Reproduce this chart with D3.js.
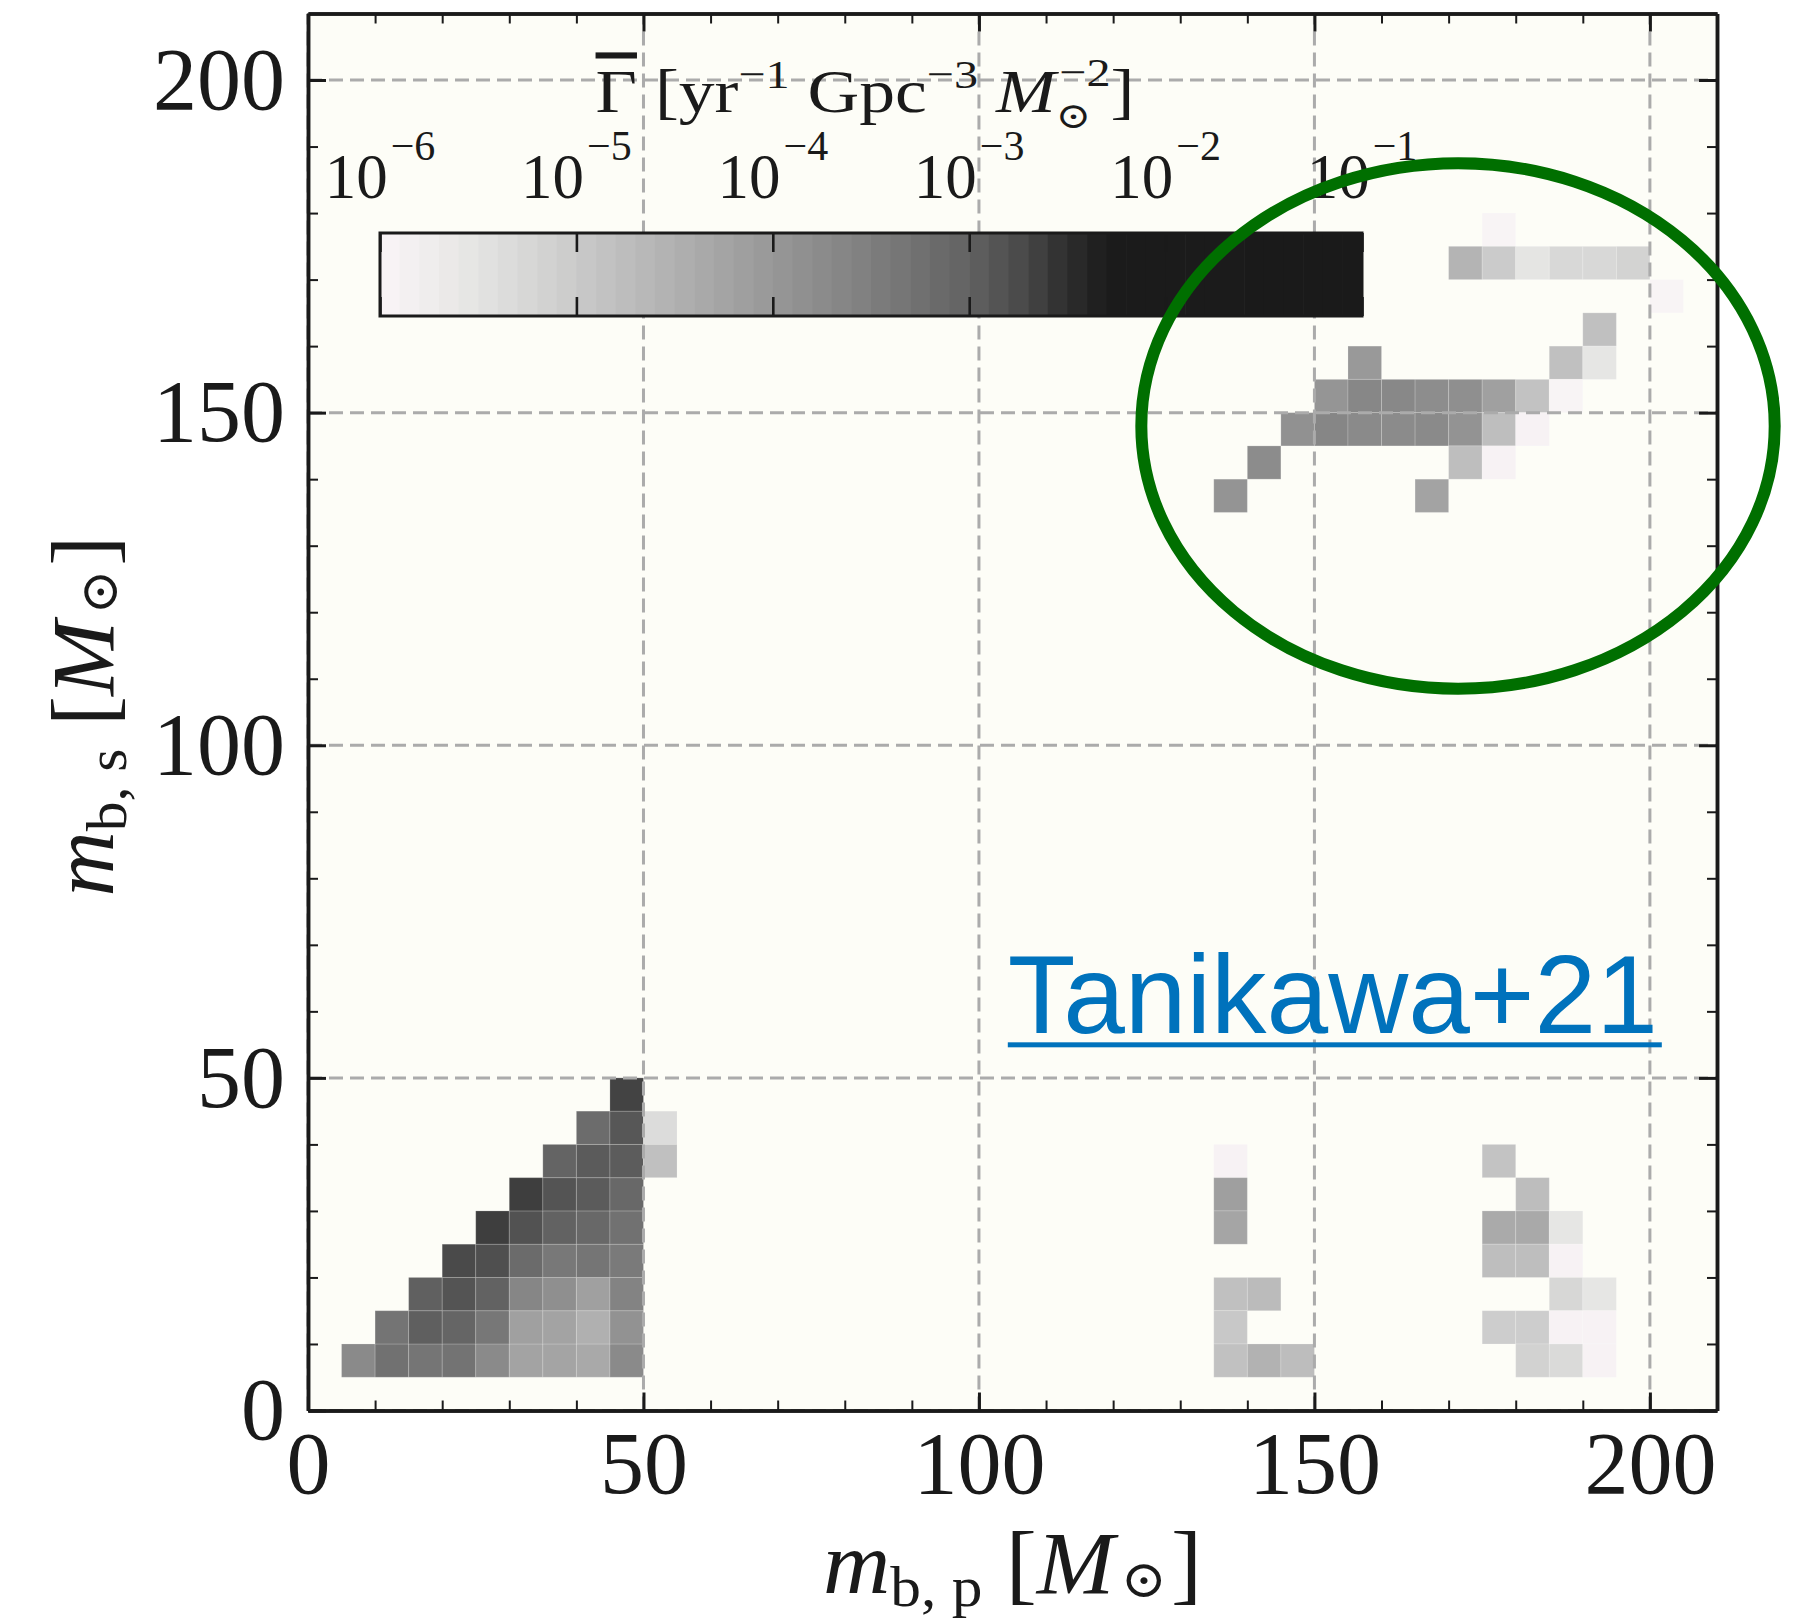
<!DOCTYPE html>
<html>
<head>
<meta charset="utf-8">
<script src="https://cdn.jsdelivr.net/npm/d3@7"></script>
<style>
  html, body { margin: 0; background: #ffffff; }
  svg { display: block; }
</style>
</head>
<body>
<svg id="chart" width="1803" height="1619"></svg>
<script>
// Merger rate density per (m_b,p, m_b,s) bin of width 5 Msun.
// Each entry: [m_b,p bin start, m_b,s bin start, rate in yr^-1 Gpc^-3 Msun^-2]
const BIN = 5;

const lowMassCells = [
  [5, 5, 1.9e-4], [10, 5, 5.5e-4], [15, 5, 4.5e-4], [20, 5, 5.0e-4], [25, 5, 1.9e-4],
  [30, 5, 5.9e-5], [35, 5, 5.6e-5], [40, 5, 4.5e-5], [45, 5, 1.9e-4],
  [10, 10, 4.8e-4], [15, 10, 1.07e-3], [20, 10, 8.9e-4], [25, 10, 4.3e-4],
  [30, 10, 6.8e-5], [35, 10, 5.9e-5], [40, 10, 3.2e-5], [45, 10, 1.3e-4],
  [15, 15, 1.05e-3], [20, 15, 1.4e-3], [25, 15, 1.0e-3], [30, 15, 2.2e-4],
  [35, 15, 1.5e-4], [40, 15, 6.8e-5], [45, 15, 2.5e-4],
  [20, 20, 1.8e-3], [25, 20, 1.6e-3], [30, 20, 6.9e-4], [35, 20, 4.1e-4],
  [40, 20, 4.5e-4], [45, 20, 3.8e-4],
  [25, 25, 2.3e-3], [30, 25, 1.5e-3], [35, 25, 1.0e-3], [40, 25, 7.9e-4], [45, 25, 5.5e-4],
  [30, 30, 2.3e-3], [35, 30, 1.4e-3], [40, 30, 1.2e-3], [45, 30, 7.9e-4],
  [35, 35, 9.3e-4], [40, 35, 1.2e-3], [45, 35, 1.15e-3],
  [40, 40, 6.6e-4], [45, 40, 1.3e-3],
  [45, 45, 2.1e-3],
  [50, 40, 4.5e-6], [50, 35, 1.55e-5]
];

const upperGapCells = [
  [175, 175, 1.1e-6],
  [170, 170, 2.6e-5], [175, 170, 9.5e-6], [180, 170, 3.0e-6], [185, 170, 5.4e-6],
  [190, 170, 5.4e-6], [195, 170, 6.8e-6],
  [200, 165, 1.1e-6],
  [190, 160, 1.55e-5],
  [155, 155, 9.5e-5], [185, 155, 1.55e-5], [190, 155, 2.8e-6],
  [150, 150, 1.15e-4], [155, 150, 2.1e-4], [160, 150, 2.0e-4], [165, 150, 1.6e-4],
  [170, 150, 1.5e-4], [175, 150, 6.8e-5], [180, 150, 1.4e-5], [185, 150, 1.1e-6],
  [145, 145, 1.35e-4], [150, 145, 2.2e-4], [155, 145, 1.9e-4], [160, 145, 1.8e-4],
  [165, 145, 1.9e-4], [170, 145, 1.25e-4], [175, 145, 1.7e-5], [180, 145, 1.2e-6],
  [140, 140, 1.7e-4], [170, 140, 1.7e-5], [175, 140, 1.2e-6],
  [135, 135, 1.2e-4], [165, 135, 5.9e-5]
];

const lowerGapCellsLeft = [
  [135, 35, 1.2e-6], [135, 30, 7.1e-5], [135, 25, 5.4e-5], [135, 15, 1.55e-5],
  [135, 10, 1.1e-5], [135, 5, 1.5e-5], [140, 15, 1.95e-5], [140, 5, 2.9e-5], [145, 5, 1.8e-5]
];

const lowerGapCellsRight = [
  [175, 35, 1.35e-5], [175, 25, 4.2e-5], [175, 20, 1.7e-5], [175, 10, 8.7e-6],
  [180, 30, 1.8e-5], [180, 25, 4.5e-5], [180, 20, 1.7e-5], [180, 10, 8.7e-6], [180, 5, 7.1e-6],
  [185, 25, 2.8e-6], [185, 20, 1.2e-6], [185, 15, 5.6e-6], [185, 10, 1.2e-6], [185, 5, 4.9e-6],
  [190, 15, 2.8e-6], [190, 10, 1.2e-6], [190, 5, 1.2e-6]
];

// Axis ticks
const majorTicks = [0, 50, 100, 150, 200];
const minorTicks = [10, 20, 30, 40, 60, 70, 80, 90, 110, 120, 130, 140, 160, 170, 180, 190];
const colorbarDecades = [-6, -5, -4, -3, -2, -1];

// Grey colour map, defined on log10(rate)
const cmapLog = [-6, -5.5, -5, -4.5, -4, -3.5, -3, -2.7, -2.5, -2.3, -1];
const cmapColors = ["#faf5f7", "#e4e4e2", "#cacaca", "#b0b0b0", "#989898", "#7e7e7e",
                    "#626262", "#464646", "#2d2d2d", "#1b1b1b", "#1a1a1a"];

// Highlighted region (ellipse centre and semi-axes in Msun)
const highlight = { cx: 171.4, cy: 148, rx: 47.2, ry: 39.5 };

const SERIF = "'Liberation Serif','Times New Roman',serif";
const INK = "#1a1a1a";

const svg = d3.select("#chart");
const x = d3.scaleLinear().domain([0, 210]).range([308, 1717]);
const y = d3.scaleLinear().domain([0, 210]).range([1410.5, 13.5]);
const logColor = d3.scaleLinear().domain(cmapLog).range(cmapColors)
  .interpolate(d3.interpolateRgb).clamp(true);
const rateColor = v => logColor(Math.log10(v));

function fitWidth(text, target) {
  const w = text.node().getBBox().width;
  if (w > 0) text.attr("transform", `scale(${target / w},1)`);
}

// Plot background
svg.append("rect")
  .attr("x", x(0)).attr("y", y(210))
  .attr("width", x(210) - x(0)).attr("height", y(0) - y(210))
  .attr("fill", "#fdfdf7");

// Binned cells
const cells = [...lowMassCells, ...upperGapCells, ...lowerGapCellsLeft, ...lowerGapCellsRight];
svg.append("g").selectAll("rect").data(cells).join("rect")
  .attr("x", d => x(d[0]))
  .attr("y", d => y(d[1] + BIN))
  .attr("width", d => x(d[0] + BIN) - x(d[0]))
  .attr("height", d => y(d[1]) - y(d[1] + BIN))
  .attr("fill", d => rateColor(d[2]))
  .attr("stroke", "rgba(255,255,255,0.18)")
  .attr("stroke-width", 1);

// Dashed grid
const grid = svg.append("g").attr("stroke", "#ababab").attr("stroke-width", 3)
  .attr("stroke-dasharray", "14,7");
grid.selectAll("line.v").data(majorTicks).join("line").attr("class", "v")
  .attr("x1", d => x(d)).attr("x2", d => x(d)).attr("y1", y(0)).attr("y2", y(210));
grid.selectAll("line.h").data(majorTicks).join("line").attr("class", "h")
  .attr("y1", d => y(d)).attr("y2", d => y(d)).attr("x1", x(0)).attr("x2", x(210));

// Colour bar
const cb = { x0: 380, x1: 1362, top: 233, bottom: 316 };
const cbx = d3.scaleLinear().domain([-6, -1]).range([cb.x0, cb.x1]);
const bandStarts = d3.range(0, 50).map(i => -6 + i * 0.1);
const cbg = svg.append("g");
cbg.selectAll("rect.band").data(bandStarts).join("rect").attr("class", "band")
  .attr("x", d => cbx(d)).attr("y", cb.top)
  .attr("width", d => cbx(d + 0.1) - cbx(d) + 0.6).attr("height", cb.bottom - cb.top)
  .attr("fill", d => logColor(d + 0.05));
const cbTop = d3.axisTop(cbx).tickValues(colorbarDecades).tickSizeInner(-19).tickSizeOuter(0).tickFormat("");
const cbBottom = d3.axisBottom(cbx).tickValues(colorbarDecades).tickSizeInner(-19).tickSizeOuter(0).tickFormat("");
cbg.append("g").attr("transform", `translate(0,${cb.top})`).call(cbTop);
cbg.append("g").attr("transform", `translate(0,${cb.bottom})`).call(cbBottom);
cbg.selectAll(".domain").remove();
cbg.selectAll(".tick line").attr("stroke", INK).attr("stroke-width", 2.6);
cbg.append("rect").attr("x", cb.x0).attr("y", cb.top)
  .attr("width", cb.x1 - cb.x0).attr("height", cb.bottom - cb.top)
  .attr("fill", "none").attr("stroke", INK).attr("stroke-width", 3);

// Colour bar tick labels 10^n
const cbLabels = svg.append("g").attr("font-family", SERIF).attr("fill", INK);
colorbarDecades.forEach(d => {
  const t = cbLabels.append("text").attr("x", cbx(d)).attr("y", 198)
    .attr("text-anchor", "middle").attr("font-size", 63);
  t.append("tspan").text("10");
  t.append("tspan").attr("font-size", 42).attr("dy", -38).attr("dx", 3).text("\u2212" + Math.abs(d));
});

// Colour bar title
const cbTitleG = svg.append("g").attr("transform", `translate(865,112)`);
const cbTitle = cbTitleG.append("text").attr("font-family", SERIF).attr("font-size", 61)
  .attr("fill", INK).attr("text-anchor", "middle");
cbTitle.append("tspan").style("text-decoration", "overline").text("\u0393");
cbTitle.append("tspan").text(" [yr");
cbTitle.append("tspan").attr("font-size", 41).attr("dy", -24).text("\u22121");
cbTitle.append("tspan").attr("dy", 24).text(" Gpc");
cbTitle.append("tspan").attr("font-size", 41).attr("dy", -24).text("\u22123");
cbTitle.append("tspan").attr("dy", 24).text(" ");
cbTitle.append("tspan").attr("font-style", "italic").text("M");
cbTitle.append("tspan").attr("font-size", 36).attr("dy", 16).attr("font-family", "'DejaVu Serif',serif").text("\u2299");
cbTitle.append("tspan").attr("font-size", 41).attr("dx", -27).attr("dy", -42).text("\u22122");
cbTitle.append("tspan").attr("dy", 26).text("]");
fitWidth(cbTitle, 539);

// Axes: ticks inside on all four sides
function styleAxis(g, width) {
  g.select(".domain").attr("stroke", INK).attr("stroke-width", 3.5);
  g.selectAll(".tick line").attr("stroke", INK).attr("stroke-width", width);
  g.selectAll(".tick text").attr("font-family", SERIF).attr("font-size", 88).attr("fill", INK);
}
const axes = svg.append("g");
const fmt = d3.format("d");
axes.append("g").attr("transform", `translate(0,${y(0)})`)
  .call(d3.axisBottom(x).tickValues(minorTicks).tickSizeInner(-10).tickSizeOuter(0).tickFormat(""))
  .call(g => styleAxis(g, 2));
axes.append("g").attr("transform", `translate(0,${y(0)})`)
  .call(d3.axisBottom(x).tickValues(majorTicks).tickSizeInner(-18).tickSizeOuter(0).tickPadding(20).tickFormat(fmt))
  .call(g => styleAxis(g, 3));
axes.append("g").attr("transform", `translate(0,${y(210)})`)
  .call(d3.axisTop(x).tickValues(minorTicks).tickSizeInner(-10).tickSizeOuter(0).tickFormat(""))
  .call(g => styleAxis(g, 2));
axes.append("g").attr("transform", `translate(0,${y(210)})`)
  .call(d3.axisTop(x).tickValues(majorTicks).tickSizeInner(-18).tickSizeOuter(0).tickFormat(""))
  .call(g => styleAxis(g, 3));
axes.append("g").attr("transform", `translate(${x(0)},0)`)
  .call(d3.axisLeft(y).tickValues(minorTicks).tickSizeInner(-10).tickSizeOuter(0).tickFormat(""))
  .call(g => styleAxis(g, 2));
axes.append("g").attr("transform", `translate(${x(0)},0)`)
  .call(d3.axisLeft(y).tickValues(majorTicks).tickSizeInner(-18).tickSizeOuter(0).tickPadding(23).tickFormat(fmt))
  .call(g => styleAxis(g, 3));
axes.append("g").attr("transform", `translate(${x(210)},0)`)
  .call(d3.axisRight(y).tickValues(minorTicks).tickSizeInner(-10).tickSizeOuter(0).tickFormat(""))
  .call(g => styleAxis(g, 2));
axes.append("g").attr("transform", `translate(${x(210)},0)`)
  .call(d3.axisRight(y).tickValues(majorTicks).tickSizeInner(-18).tickSizeOuter(0).tickFormat(""))
  .call(g => styleAxis(g, 3));

// Axis titles
function massLabel(parent, sub, width) {
  const t = parent.append("text").attr("font-family", SERIF).attr("font-size", 88)
    .attr("fill", INK).attr("text-anchor", "middle");
  t.append("tspan").attr("font-style", "italic").text("m");
  t.append("tspan").attr("font-size", 58).attr("dy", 13).text(sub);
  t.append("tspan").attr("dy", -13).text(" [");
  t.append("tspan").attr("font-style", "italic").text("M");
  t.append("tspan").attr("font-size", 52).attr("dy", 4).attr("dx", 6)
    .attr("font-family", "'DejaVu Serif',serif").text("\u2299");
  t.append("tspan").attr("dy", -4).attr("dx", 4).text("]");
  fitWidth(t, width);
  return t;
}
massLabel(svg.append("g").attr("transform", `translate(${(x(0) + x(210)) / 2},1593)`), "b, p", 379);
massLabel(svg.append("g").attr("transform", `translate(113,716) rotate(-90)`), "b, s", 361);

// Reference tag
const tag = svg.append("g").attr("transform", `translate(${x(104.3)},${y(56.7)})`);
const tagText = tag.append("text").attr("font-family", "'Liberation Sans',Arial,sans-serif")
  .attr("font-size", 112).attr("fill", "#0072bc").text("Tanikawa+21");
fitWidth(tagText, 650);
tag.append("rect").attr("x", 0).attr("y", 9).attr("width", 654).attr("height", 5).attr("fill", "#0072bc");

// Highlight ellipse
svg.append("ellipse")
  .attr("cx", x(highlight.cx)).attr("cy", y(highlight.cy))
  .attr("rx", x(highlight.rx) - x(0)).attr("ry", y(0) - y(highlight.ry))
  .attr("fill", "none").attr("stroke", "#006f00").attr("stroke-width", 12);
</script>
</body>
</html>
